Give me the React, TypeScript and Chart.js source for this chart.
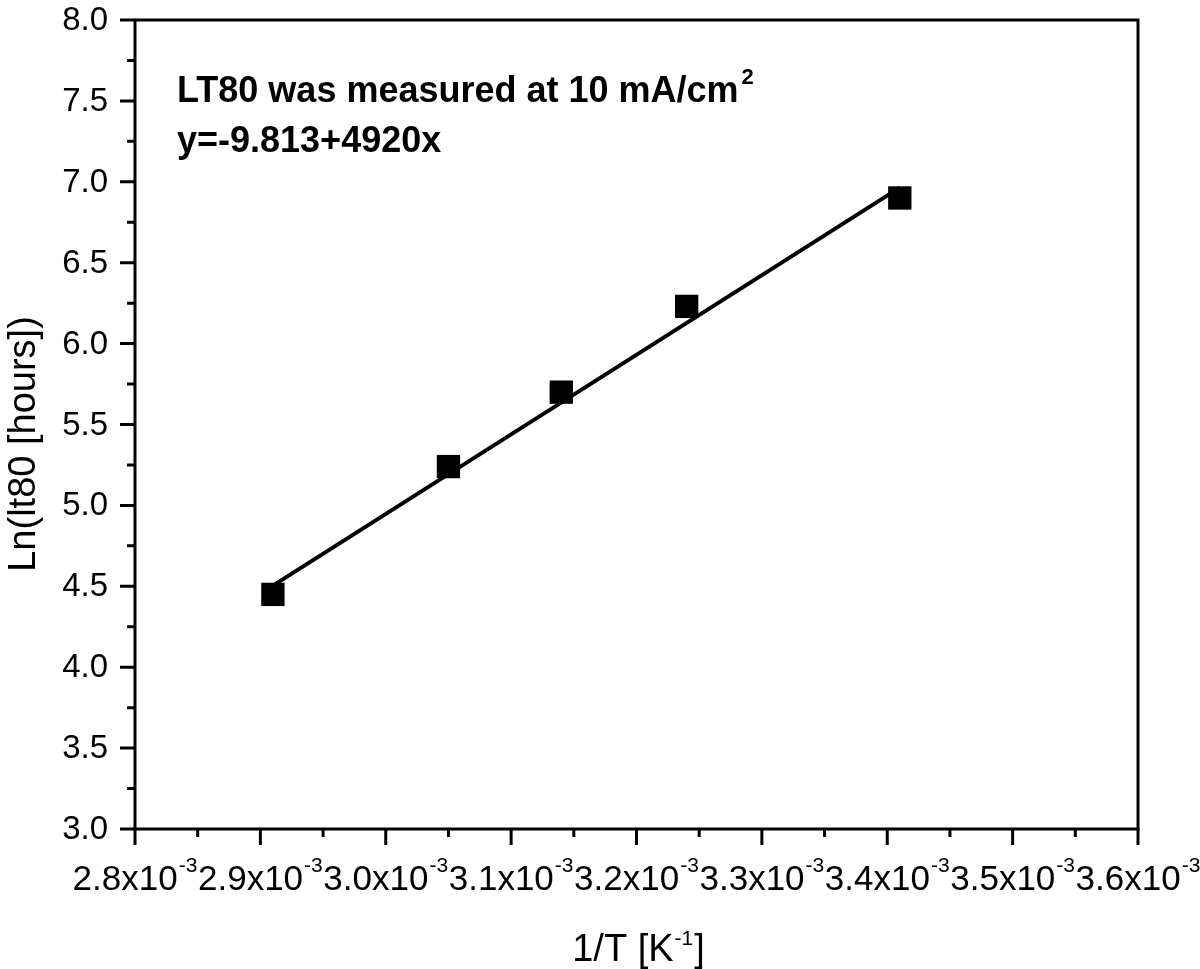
import React, { useEffect, useRef } from "react";
import { Chart, registerables } from "chart.js";

Chart.register(...registerables);

// ---- data (x values in units of 10^-3 K^-1) ----
const invTemperature = [2.91, 3.05, 3.14, 3.24, 3.41];
const lnLT80 = [4.45, 5.24, 5.7, 6.23, 6.9];
const fitIntercept = -9.813;
const fitSlope = 4920;
const fitRange = [2.91, 3.41];
const xTickValues = [2.8, 2.9, 3.0, 3.1, 3.2, 3.3, 3.4, 3.5, 3.6];
const yTickValues = [3.0, 3.5, 4.0, 4.5, 5.0, 5.5, 6.0, 6.5, 7.0, 7.5, 8.0];
const annotationLine1 = "LT80 was measured at 10 mA/cm";
const annotationLine1Sup = "2";
const annotationLine2 = "y=-9.813+4920x";
const xTitleMain = "1/T [K";
const xTitleSup = "-1";
const xTitleEnd = "]";
const xTickSup = "-3";
const yTitle = "Ln(lt80 [hours])";

const FONT = "'Liberation Sans', Arial, Helvetica, sans-serif";
const SCALE = 1e-3;

const decorPlugin = {
  id: "decor",
  beforeDatasetsDraw(chart: any) {
    const { ctx, chartArea: a, scales } = chart;
    const x = scales.x;
    const y = scales.y;
    ctx.save();
    ctx.strokeStyle = "#000";
    ctx.lineWidth = 3;
    ctx.lineCap = "butt";
    ctx.strokeRect(a.left, a.top, a.right - a.left, a.bottom - a.top);
    ctx.beginPath();
    xTickValues.forEach((v, i) => {
      const px = x.getPixelForValue(v * SCALE);
      ctx.moveTo(px, a.bottom);
      ctx.lineTo(px, a.bottom + 16);
      if (i < xTickValues.length - 1) {
        const m = x.getPixelForValue(((v + xTickValues[i + 1]) / 2) * SCALE);
        ctx.moveTo(m, a.bottom);
        ctx.lineTo(m, a.bottom + 8);
      }
    });
    yTickValues.forEach((v, i) => {
      const py = y.getPixelForValue(v);
      ctx.moveTo(a.left, py);
      ctx.lineTo(a.left - 15, py);
      if (i < yTickValues.length - 1) {
        const m = y.getPixelForValue((v + yTickValues[i + 1]) / 2);
        ctx.moveTo(a.left, m);
        ctx.lineTo(a.left - 8, m);
      }
    });
    ctx.stroke();
    ctx.restore();
  },
  afterDraw(chart: any) {
    const { ctx, chartArea: a, scales } = chart;
    const x = scales.x;
    const y = scales.y;
    ctx.save();
    ctx.fillStyle = "#000";

    // y tick labels
    ctx.textAlign = "right";
    ctx.textBaseline = "middle";
    ctx.font = `33px ${FONT}`;
    yTickValues.forEach((v) => {
      ctx.fillText(v.toFixed(1), a.left - 27, y.getPixelForValue(v) + 1);
    });

    ctx.textBaseline = "alphabetic";
    ctx.textAlign = "left";

    // x tick labels with superscript
    xTickValues.forEach((v) => {
      const main = v.toFixed(1) + "x10";
      ctx.font = `35px ${FONT}`;
      const w1 = ctx.measureText(main).width;
      ctx.font = `21px ${FONT}`;
      const w2 = ctx.measureText(xTickSup).width;
      const px = x.getPixelForValue(v * SCALE);
      const start = px - (w1 + w2 + 1) / 2;
      ctx.font = `35px ${FONT}`;
      ctx.fillText(main, start, a.bottom + 61);
      ctx.font = `21px ${FONT}`;
      ctx.fillText(xTickSup, start + w1 + 1, a.bottom + 43);
    });

    // x title
    ctx.font = `38px ${FONT}`;
    const t1 = ctx.measureText(xTitleMain).width;
    const t3 = ctx.measureText(xTitleEnd).width;
    ctx.font = `21px ${FONT}`;
    const t2 = ctx.measureText(xTitleSup).width;
    const cx = (a.left + a.right) / 2 + 2;
    const sx = cx - (t1 + t2 + t3 + 2) / 2;
    ctx.font = `38px ${FONT}`;
    ctx.fillText(xTitleMain, sx, 961);
    ctx.font = `21px ${FONT}`;
    ctx.fillText(xTitleSup, sx + t1 + 1, 945);
    ctx.font = `38px ${FONT}`;
    ctx.fillText(xTitleEnd, sx + t1 + t2 + 2, 961);

    // y title
    ctx.save();
    ctx.translate(25, 444);
    ctx.rotate(-Math.PI / 2);
    ctx.textAlign = "center";
    ctx.textBaseline = "middle";
    ctx.font = `38px ${FONT}`;
    ctx.fillText(yTitle, 0, 0);
    ctx.restore();

    // annotation
    ctx.font = `bold 36px ${FONT}`;
    ctx.fillText(annotationLine1, 177, 102);
    const aw = ctx.measureText(annotationLine1).width;
    ctx.font = `bold 22px ${FONT}`;
    ctx.fillText(annotationLine1Sup, 177 + aw + 3, 84);
    ctx.font = `bold 36px ${FONT}`;
    ctx.fillText(annotationLine2, 177, 152);

    ctx.restore();
  },
};

export default function App() {
  const canvasRef = useRef<HTMLCanvasElement | null>(null);

  useEffect(() => {
    if (!canvasRef.current) return;
    const points = invTemperature.map((v, i) => ({ x: v * SCALE, y: lnLT80[i] }));
    const fitPoints = fitRange.map((v) => ({
      x: v * SCALE,
      y: fitIntercept + fitSlope * v * SCALE,
    }));
    const chart = new Chart(canvasRef.current, {
      type: "scatter",
      data: {
        datasets: [
          {
            label: "LT80",
            data: points,
            pointStyle: "rect",
            pointRadius: 16.5,
            pointHoverRadius: 16.5,
            backgroundColor: "#000",
            borderColor: "#000",
            borderWidth: 0,
            showLine: false,
          },
          {
            label: "Fit",
            type: "line",
            data: fitPoints,
            borderColor: "#000",
            borderWidth: 4,
            pointRadius: 0,
            fill: false,
            tension: 0,
          },
        ],
      },
      options: {
        animation: false,
        responsive: true,
        maintainAspectRatio: false,
        events: [],
        layout: { padding: { left: 0, top: 20, right: 62, bottom: 0 } },
        plugins: {
          legend: { display: false },
          tooltip: { enabled: false },
        },
        scales: {
          x: {
            type: "linear",
            min: xTickValues[0] * SCALE,
            max: xTickValues[xTickValues.length - 1] * SCALE,
            grid: { display: false },
            border: { display: false },
            ticks: { display: false },
            afterFit: (s: any) => {
              s.height = 140;
            },
          },
          y: {
            type: "linear",
            min: yTickValues[0],
            max: yTickValues[yTickValues.length - 1],
            grid: { display: false },
            border: { display: false },
            ticks: { display: false },
            afterFit: (s: any) => {
              s.width = 135;
            },
          },
        },
      },
      plugins: [decorPlugin],
    });
    return () => chart.destroy();
  }, []);

  return (
    <div
      style={{
        position: "absolute",
        left: 0,
        top: 0,
        width: 1200,
        height: 969,
        background: "#fff",
      }}
    >
      <canvas ref={canvasRef} style={{ display: "block" }} />
    </div>
  );
}
